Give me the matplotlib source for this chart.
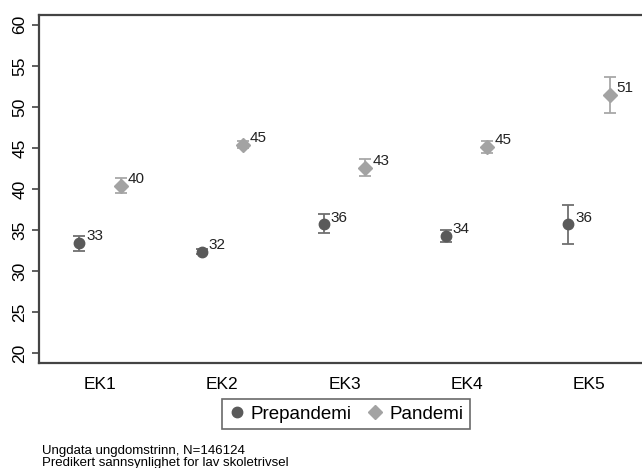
import numpy as np
import matplotlib.pyplot as plt

plt.rcParams['font.family'] = ['Liberation Sans', 'DejaVu Sans']

# data
categories = ['EK1', 'EK2', 'EK3', 'EK4', 'EK5']
pre = [33.4, 32.35, 35.7, 34.3, 35.7]
pre_lo = [32.5, 32.05, 34.7, 33.5, 33.3]
pre_hi = [34.3, 32.65, 36.9, 35.0, 38.1]
pan = [40.4, 45.4, 42.6, 45.1, 51.45]
pan_lo = [39.5, 45.0, 41.6, 44.35, 49.3]
pan_hi = [41.4, 45.8, 43.6, 45.85, 53.7]
yticks = [20, 25, 30, 35, 40, 45, 50, 55, 60]

pre_col = '#5a5a5a'
pan_col = '#a3a3a3'

fig = plt.figure(figsize=(6.42, 4.68), dpi=100)
W, H = 642, 468
ax = fig.add_axes([39 / W, (H - 363) / H, (650 - 39) / W, (363 - 15) / H])

x = np.arange(1, len(categories) + 1)
off = 0.17

pre = np.array(pre); pan = np.array(pan)
ax.errorbar(x - off, pre, yerr=[pre - np.array(pre_lo), np.array(pre_hi) - pre],
            fmt='o', color=pre_col, ecolor='#707070', ms=7.5, capsize=4,
            elinewidth=1.3, capthick=1.3, label='Prepandemi')
ax.errorbar(x + off, pan, yerr=[pan - np.array(pan_lo), np.array(pan_hi) - pan],
            fmt='D', color=pan_col, ecolor='#a8a8a8', ms=7.5, capsize=4,
            elinewidth=1.3, capthick=1.3, label='Pandemi')

for xi, v in zip(x - off, pre):
    ax.annotate(f'{round(v):.0f}', (xi, v), xytext=(5, 2), textcoords='offset points',
                fontsize=11, color='#222222')
for xi, v in zip(x + off, pan):
    ax.annotate(f'{round(v):.0f}', (xi, v), xytext=(5, 2), textcoords='offset points',
                fontsize=11, color='#222222')

ax.set_xlim(0.5, 5.5)
ax.set_ylim(18.8, 61.2)
ax.set_xticks(x)
ax.set_xticklabels(categories, fontsize=12.5)
ax.tick_params(axis='x', length=0, pad=10)
ax.set_yticks(yticks)
ax.set_yticklabels([str(t) for t in yticks], rotation=90, va='center', fontsize=12.5)
ax.tick_params(axis='y', length=5, width=1.2, color='#444444')

for s in ['left', 'bottom', 'top']:
    ax.spines[s].set_color('#444444')
    ax.spines[s].set_linewidth(1.6)
ax.spines['right'].set_visible(False)

handles, labels = ax.get_legend_handles_labels()
handles = [h[0] for h in handles]
leg = fig.legend(handles, labels, loc='center', bbox_to_anchor=(346 / W, 1 - 414 / H),
                 ncol=2, fontsize=13.5, frameon=True, fancybox=False, handletextpad=0.3,
                 columnspacing=0.8, handlelength=0.9, borderpad=0.35, borderaxespad=0)
leg.get_frame().set_edgecolor('#444444')
leg.get_frame().set_linewidth(1.2)

fig.text(42 / W, 1 - 457 / H,
         'Ungdata ungdomstrinn, N=146124\nPredikert sannsynlighet for lav skoletrivsel',
         fontsize=9.5, va='center', linespacing=0.95)

fig.savefig('out.png', dpi=100)
